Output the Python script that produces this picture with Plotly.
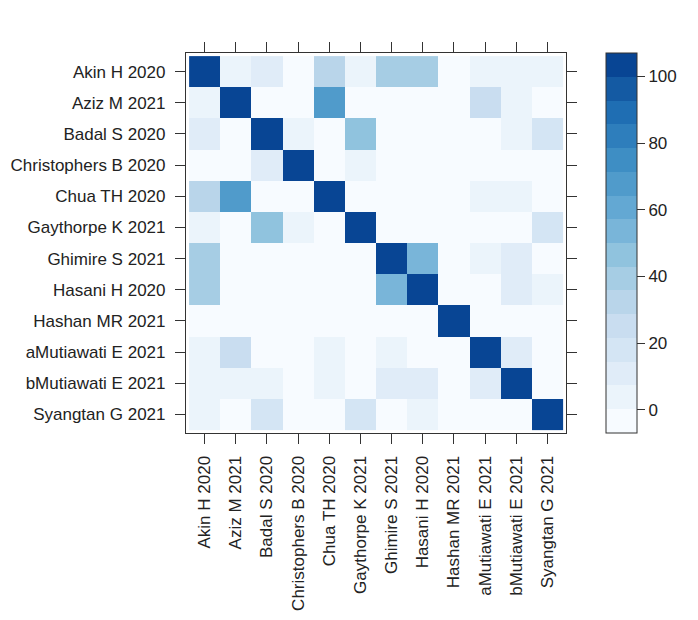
import plotly.graph_objects as go

labels = ["Akin H 2020", "Aziz M 2021", "Badal S 2020", "Christophers B 2020",
          "Chua TH 2020", "Gaythorpe K 2021", "Ghimire S 2021", "Hasani H 2020",
          "Hashan MR 2021", "aMutiawati E 2021", "bMutiawati E 2021", "Syangtan G 2021"]

# rows top->bottom, columns left->right (same order as labels)
akin          = [100, 4, 10, 0, 32, 4, 39, 39, 0, 4, 4, 4]
aziz          = [4, 100, 0, 0, 68, 0, 0, 0, 0, 24, 4, 0]
badal         = [10, 0, 100, 6, 0, 46, 0, 0, 0, 0, 4, 18]
christophers  = [0, 0, 10, 100, 0, 5, 0, 0, 0, 0, 0, 0]
chua          = [32, 68, 0, 0, 100, 0, 0, 0, 0, 4, 4, 0]
gaythorpe     = [4, 0, 46, 5, 0, 100, 0, 0, 0, 0, 0, 18]
ghimire       = [39, 0, 0, 0, 0, 0, 100, 53, 0, 4, 9, 0]
hasani        = [39, 0, 0, 0, 0, 0, 53, 100, 0, 0, 9, 5]
hashan        = [0, 0, 0, 0, 0, 0, 0, 0, 100, 0, 0, 0]
a_mutiawati   = [4, 24, 0, 0, 4, 0, 4, 0, 0, 100, 9, 0]
b_mutiawati   = [4, 4, 4, 0, 4, 0, 9, 9, 0, 9, 100, 0]
syangtan      = [4, 0, 18, 0, 0, 18, 0, 5, 0, 0, 0, 100]

z = [akin, aziz, badal, christophers, chua, gaythorpe, ghimire, hasani,
     hashan, a_mutiawati, b_mutiawati, syangtan]

colorbar_ticks = [0, 20, 40, 60, 80, 100]
zmin, zmax = -7, 107
n_bins = 16

anchors = ["#F7FBFF", "#DEEBF7", "#C6DBEF", "#9ECAE1", "#6BAED6", "#4292C6", "#2171B5", "#084594"]


def hex2rgb(h):
    h = h.lstrip("#")
    return [int(h[i:i + 2], 16) for i in (0, 2, 4)]


def interp(k):
    t = k / (n_bins - 1) * (len(anchors) - 1)
    i = min(int(t), len(anchors) - 2)
    f = t - i
    a, b = hex2rgb(anchors[i]), hex2rgb(anchors[i + 1])
    c = [round(a[j] + (b[j] - a[j]) * f) for j in range(3)]
    return "rgb({},{},{})".format(*c)


bin_colors = [interp(k) for k in range(n_bins)]
colorscale = []
for k, c in enumerate(bin_colors):
    colorscale.append([k / n_bins, c])
    colorscale.append([(k + 1) / n_bins, c])

font_family = "Liberation Sans, Arial, sans-serif"
fsize = 17
txt = "#222222"

fig = go.Figure(go.Heatmap(
    z=z, x=labels, y=labels,
    zmin=zmin, zmax=zmax,
    colorscale=colorscale,
    colorbar=dict(
        x=1.105, xanchor="left", xpad=0,
        y=0.5, yanchor="middle", ypad=0,
        len=1, lenmode="fraction",
        thickness=31, thicknessmode="pixels",
        outlinewidth=1, outlinecolor="#333333",
        tickvals=colorbar_ticks, ticks="outside", ticklen=8, tickwidth=1,
        tickcolor="#333333", tickprefix="\u00a0",
        tickfont=dict(family=font_family, size=fsize, color=txt),
    ),
    hoverongaps=False,
))

axis_common = dict(
    showgrid=False, zeroline=False, automargin=False,
    showline=True, linecolor="#333333", linewidth=1.2, mirror="ticks",
    ticks="outside", ticklen=10, tickwidth=1.2, tickcolor="#333333",
    tickfont=dict(family=font_family, size=fsize, color=txt),
    range=[-0.6, 11.6],
)

fig.update_xaxes(**axis_common, tickangle=-90, ticklabelstandoff=5)
fig.update_yaxes(**axis_common, ticklabelstandoff=6)
fig.update_yaxes(range=[11.6, -0.6])

# page body has an 8px margin, so the figure is sized to fit the window
fig.update_layout(
    width=690, height=612,
    margin=dict(l=178, r=132, t=45, b=187, autoexpand=False),
    paper_bgcolor="white", plot_bgcolor="white",
)

fig.write_html("out.html")
